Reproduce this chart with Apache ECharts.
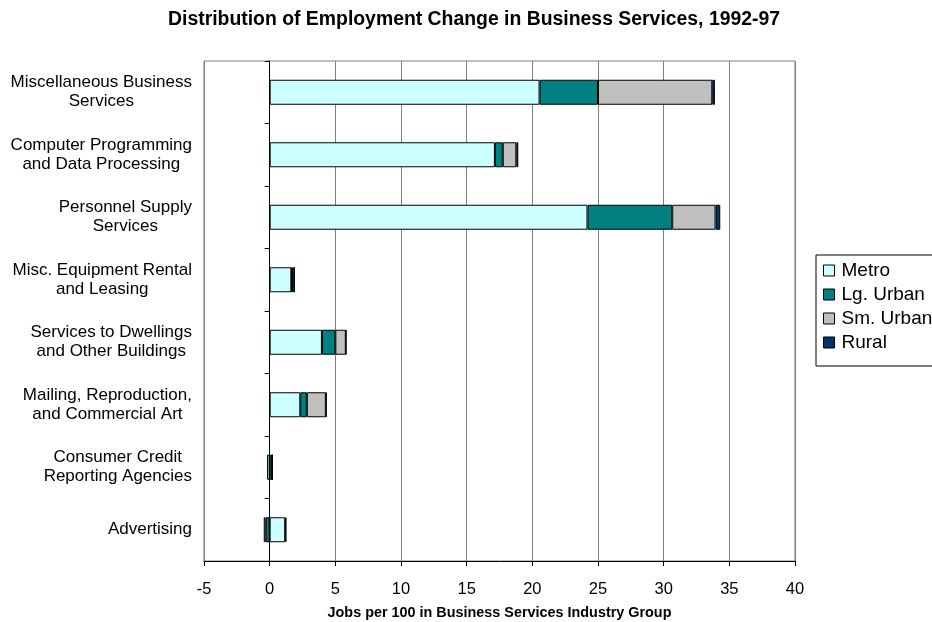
<!DOCTYPE html>
<html>
<head>
<meta charset="utf-8">
<script src="https://cdn.jsdelivr.net/npm/echarts@6/dist/echarts.min.js"></script>
<style>
html,body{margin:0;padding:0;background:#fff;}
#chart{width:932px;height:622px;}
</style>
</head>
<body>
<div id="chart"></div>
<script>
var categories = [
  "Miscellaneous Business\nServices",
  "Computer Programming\nand Data Processing",
  "Personnel Supply\nServices",
  "Misc. Equipment Rental\nand Leasing",
  "Services to Dwellings\nand Other Buildings",
  "Mailing, Reproduction,\nand Commercial Art",
  "Consumer Credit\nReporting Agencies",
  "Advertising"
];
var metro   = [20.55, 17.15, 24.2, 1.65, 3.98, 2.33, -0.2, 1.18];
var lgUrban = [4.45, 0.6, 6.45, 0.05, 1.02, 0.5, 0.2, -0.3];
var smUrban = [8.7, 1.03, 3.3, 0.17, 0.8, 1.45, 0, -0.15];
var rural   = [0.2, 0.15, 0.36, 0.02, 0.03, 0.05, 0, 0.1];
var seriesNames = ["Metro", "Lg. Urban", "Sm. Urban", "Rural"];
var xTicks = [-5, 0, 5, 10, 15, 20, 25, 30, 35, 40];

var FONT = "Liberation Sans, Arial, sans-serif";
var colors = ["#CCFFFF", "#008080", "#C0C0C0", "#003366"];
var values = [metro, lgUrban, smUrban, rural];

var chart = echarts.init(document.getElementById('chart'), null, {renderer: 'canvas'});
var series = seriesNames.map(function (n, i) {
  return {
    name: n,
    type: 'bar',
    stack: 'total',
    barWidth: '40%',
    data: values[i],
    itemStyle: {color: colors[i], borderColor: '#000', borderWidth: 1},
    emphasis: {disabled: true}
  };
});

chart.setOption({
  animation: false,
  backgroundColor: '#fff',
  textStyle: {fontFamily: FONT},
  title: {
    text: 'Distribution of Employment Change in Business Services, 1992-97',
    left: 163,
    top: 5,
    textStyle: {fontFamily: FONT, fontSize: 19.4, fontWeight: 'bold', color: '#000'}
  },
  legend: {
    orient: 'vertical',
    left: 816,
    top: 255,
    padding: [6, 40, 14, 7],
    itemGap: 5,
    itemWidth: 11,
    itemHeight: 11,
    borderColor: '#000',
    borderWidth: 1,
    backgroundColor: '#fff',
    icon: 'rect',
    itemStyle: {borderColor: '#000', borderWidth: 1},
    textStyle: {fontFamily: FONT, fontSize: 19, color: '#000', padding: [0, 0, 0, 2]},
    data: seriesNames
  },
  grid: {
    left: 204, right: 137, top: 61, bottom: 61,
    show: true, borderColor: '#808080', borderWidth: 1,
    containLabel: false,
    outerBoundsMode: 'none'
  },
  xAxis: {
    type: 'value',
    min: -5, max: 40, interval: 5,
    name: 'Jobs per 100 in Business Services Industry Group',
    nameLocation: 'middle',
    nameGap: 45,
    nameTextStyle: {fontFamily: FONT, fontSize: 14.4, fontWeight: 'bold', color: '#000'},
    axisLine: {show: true, onZero: false, lineStyle: {color: '#000', width: 1}},
    axisTick: {show: true, length: 5, lineStyle: {color: '#000'}},
    axisLabel: {
      margin: 20, fontFamily: FONT, fontSize: 16.5, color: '#000',
      formatter: function (v) { return xTicks.indexOf(v) >= 0 ? String(v) : ''; }
    },
    splitLine: {show: true, lineStyle: {color: '#808080', width: 1}}
  },
  yAxis: [
    {
      type: 'category',
      inverse: true,
      data: categories,
      axisLine: {show: false, onZero: false},
      axisTick: {show: false},
      axisLabel: {
        margin: 12, color: '#000', align: 'right',
        formatter: function (v) {
          return v.split('\n').map(function (s) { return '{c|' + s + '}'; }).join('\n');
        },
        rich: {
          c: {fontFamily: FONT, fontSize: 17, lineHeight: 19, color: '#000', align: 'center'}
        }
      },
      splitLine: {show: false}
    },
    {
      type: 'category',
      inverse: true,
      position: 'left',
      data: categories,
      z: 5,
      axisLine: {show: true, onZero: true, lineStyle: {color: '#000', width: 1}},
      axisTick: {show: true, length: 5, inside: false, lineStyle: {color: '#000'}},
      axisLabel: {show: false},
      splitLine: {show: false}
    }
  ],
  series: series
});
</script>
</body>
</html>
